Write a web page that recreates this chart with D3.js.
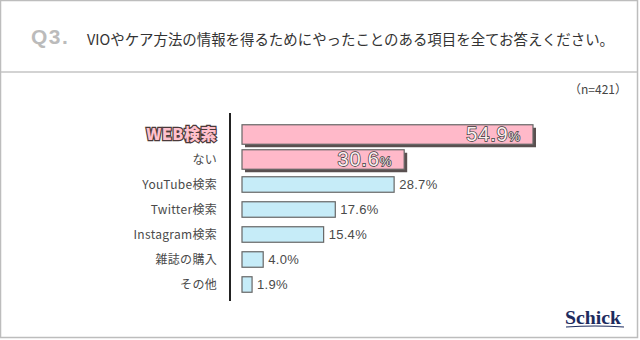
<!DOCTYPE html>
<html>
<head>
<meta charset="utf-8">
<script src="https://d3js.org/d3.v7.min.js"></script>
<style>
  body { margin: 0; background: #fff; }
  svg { display: block; }
</style>
</head>
<body>
<div id="chart"></div>
<script>
// data
var categories = ["WEB検索", "ない", "YouTube検索", "Twitter検索", "Instagram検索", "雑誌の購入", "その他"];
var values = [54.9, 30.6, 28.7, 17.6, 15.4, 4.0, 1.9];
var highlighted = ["WEB検索", "ない"];
var title = "VIOやケア方法の情報を得るためにやったことのある項目を全てお答えください。";
var sampleNote = "（n=421）";

var width = 640,
    height = 340;

var svg = d3.select("#chart")
    .append("svg")
    .attr("width", width)
    .attr("height", height);

// frame
svg.append("rect")
    .attr("x", 0.5).attr("y", 0.5)
    .attr("width", width - 3).attr("height", height - 3)
    .attr("fill", "#fff")
    .attr("stroke", "#bdbdbd")
    .attr("stroke-width", 1.5);

svg.append("line")
    .attr("x1", 1).attr("x2", width - 3)
    .attr("y1", 72).attr("y2", 72)
    .attr("stroke", "#c4c4c4")
    .attr("stroke-width", 1.5);

// header
svg.append("text")
    .attr("x", 31).attr("y", 44)
    .attr("font-family", "Liberation Sans, Arial, sans-serif")
    .attr("font-weight", "bold")
    .attr("font-size", 21)
    .attr("letter-spacing", 1.5)
    .attr("fill", "#bbbbbb")
    .text("Q3.");

svg.append("text")
    .attr("x", 87).attr("y", 45)
    .attr("font-family", "Noto Sans CJK JP, sans-serif")
    .attr("font-size", 14.5)
    .attr("fill", "#333")
    .attr("textLength", 527)
    .attr("lengthAdjust", "spacingAndGlyphs")
    .text(title);

svg.append("text")
    .attr("x", 627).attr("y", 94)
    .attr("text-anchor", "end")
    .attr("font-family", "Noto Sans CJK JP, sans-serif")
    .attr("font-size", 12)
    .attr("fill", "#444")
    .text(sampleNote);

// scales
var x = d3.scaleLinear()
    .domain([0, 54.9])
    .range([242, 533]);

var y = d3.scaleBand()
    .domain(categories)
    .range([122, 297])
    .paddingInner(0.38)
    .paddingOuter(0.19);

function isHi(d) { return highlighted.indexOf(d) >= 0; }

var rows = categories.map(function(c, i) { return {cat: c, val: values[i]}; });

// axis line
svg.append("line")
    .attr("x1", 230).attr("x2", 230)
    .attr("y1", 113).attr("y2", 301)
    .attr("stroke", "#222")
    .attr("stroke-width", 2);

var g = svg.append("g");

// shadows for highlighted bars
g.selectAll("rect.shadow")
    .data(rows.filter(function(d) { return isHi(d.cat); }))
    .enter().append("rect")
    .attr("class", "shadow")
    .attr("x", x(0) + 3)
    .attr("y", function(d) { return y(d.cat) - 2 + 3; })
    .attr("width", function(d) { return x(d.val) - x(0); })
    .attr("height", y.bandwidth() + 4)
    .attr("fill", "#5a5050");

g.selectAll("rect.bar")
    .data(rows)
    .enter().append("rect")
    .attr("class", "bar")
    .attr("x", x(0))
    .attr("y", function(d) { return isHi(d.cat) ? y(d.cat) - 2 : y(d.cat); })
    .attr("width", function(d) { return x(d.val) - x(0); })
    .attr("height", function(d) { return isHi(d.cat) ? y.bandwidth() + 4 : y.bandwidth(); })
    .attr("fill", function(d) { return isHi(d.cat) ? "#ffb9c9" : "#c6ecf8"; })
    .attr("stroke", "#666")
    .attr("stroke-width", 1.2);

// category labels
g.selectAll("text.cat")
    .data(rows)
    .enter().append("text")
    .attr("class", "cat")
    .attr("x", 217)
    .attr("y", function(d) { return y(d.cat) + y.bandwidth() / 2; })
    .attr("dy", "0.36em")
    .attr("text-anchor", "end")
    .attr("font-family", "Noto Sans CJK JP, sans-serif")
    .attr("font-size", function(d) { return d.cat === categories[0] ? 16 : 12; })
    .attr("font-weight", function(d) { return d.cat === categories[0] ? "900" : "normal"; })
    .attr("letter-spacing", function(d) { return d.cat === categories[0] ? 0.5 : 0.3; })
    .attr("fill", function(d) { return d.cat === categories[0] ? "#ffc0cc" : "#4a4a4a"; })
    .attr("stroke", function(d) { return d.cat === categories[0] ? "#4a3a3a" : "none"; })
    .attr("stroke-width", 2.4)
    .attr("paint-order", "stroke")
    .text(function(d) { return d.cat; });

// value labels: highlighted inside, others outside
var hiLabels = g.selectAll("text.hival")
    .data(rows.filter(function(d) { return isHi(d.cat); }))
    .enter().append("text")
    .attr("class", "hival")
    .attr("x", function(d) { return x(d.val) - 13; })
    .attr("y", function(d) { return y(d.cat) + y.bandwidth() / 2; })
    .attr("dy", "0.38em")
    .attr("text-anchor", "end")
    .attr("font-family", "Liberation Sans, Arial, sans-serif")
    .attr("fill", "#fbeef0")
    .attr("stroke", "#3a3a3a")
    .attr("stroke-width", 1.4)
    .attr("paint-order", "stroke");

hiLabels.append("tspan")
    .attr("font-size", 20)
    .attr("letter-spacing", 0.8)
    .text(function(d) { return d.val.toFixed(1); });
hiLabels.append("tspan")
    .attr("font-size", 13)
    .text("%");

g.selectAll("text.val")
    .data(rows.filter(function(d) { return !isHi(d.cat); }))
    .enter().append("text")
    .attr("class", "val")
    .attr("x", function(d) { return x(d.val) + 5; })
    .attr("y", function(d) { return y(d.cat) + y.bandwidth() / 2; })
    .attr("dy", "0.38em")
    .attr("font-family", "Liberation Sans, Arial, sans-serif")
    .attr("font-size", 13)
    .attr("letter-spacing", 0.3)
    .attr("fill", "#4a4a4a")
    .text(function(d) { return d.val.toFixed(1) + "%"; });

// logo
svg.append("text")
    .attr("x", 565).attr("y", 324)
    .attr("font-family", "Liberation Serif, serif")
    .attr("font-weight", "bold")
    .attr("font-size", 18)
    .attr("fill", "#1d2b5e")
    .attr("textLength", 56)
    .attr("lengthAdjust", "spacingAndGlyphs")
    .text("Schick");

svg.append("path")
    .attr("d", "M566,327 Q595,325 624,327")
    .attr("fill", "none")
    .attr("stroke", "#1d2b5e")
    .attr("stroke-width", 1.2);
</script>
</body>
</html>
